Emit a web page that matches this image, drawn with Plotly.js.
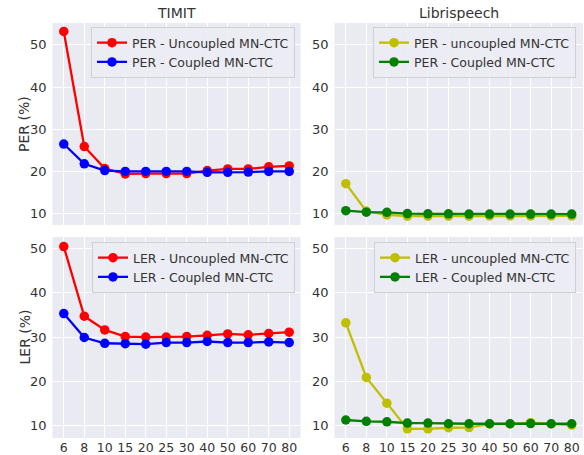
<!DOCTYPE html>
<html>
<head>
<meta charset="utf-8">
<script src="https://cdn.plot.ly/plotly-3.0.1.min.js"></script>
<style>html,body{margin:0;padding:0;background:#fff;}#chart{width:584px;height:455px;}</style>
</head>
<body>
<div id="chart"></div>
<script>
const steps = ['6','8','10','15','20','25','30','40','50','60','70','80'];

const timitPerUncoupled = [53.2, 25.9, 20.7, 19.4, 19.5, 19.5, 19.5, 20.2, 20.6, 20.6, 21.1, 21.3];
const timitPerCoupled   = [26.5, 21.8, 20.2, 20.0, 20.0, 20.0, 20.0, 19.8, 19.8, 19.85, 20.0, 20.0];
const libriPerUncoupled = [17.1, 10.6, 9.7, 9.4, 9.4, 9.4, 9.4, 9.45, 9.45, 9.45, 9.45, 9.45];
const libriPerCoupled   = [10.7, 10.35, 10.3, 10.0, 9.95, 9.95, 9.9, 9.9, 9.9, 9.9, 9.9, 9.9];

const timitLerUncoupled = [50.4, 34.7, 31.6, 30.1, 30.0, 30.0, 30.1, 30.4, 30.7, 30.5, 30.8, 31.1];
const timitLerCoupled   = [35.3, 29.9, 28.6, 28.5, 28.4, 28.75, 28.75, 29.0, 28.75, 28.75, 28.9, 28.75];
const libriLerUncoupled = [33.2, 20.9, 15.1, 9.3, 9.3, 9.55, 9.6, 10.4, 10.4, 10.7, 10.4, 10.15];
const libriLerCoupled   = [11.3, 11.0, 10.9, 10.6, 10.6, 10.45, 10.45, 10.45, 10.45, 10.5, 10.45, 10.45];

const yTicks = [10, 20, 30, 40, 50];

const W = 584, H = 455;
const colL = [52.5 / W, 300.5 / W];
const colR = [334.5 / W, 583 / W];
const rowT = [1 - 225 / H, 1 - 23 / H];
const rowB = [1 - 438 / H, 1 - 237 / H];

const FONT = 'DejaVu Sans, sans-serif';
const TXT = '#333333';

function tr(y, name, color, xa, ya, leg) {
  return {
    x: steps, y: y, name: name, type: 'scatter', mode: 'lines+markers',
    xaxis: xa, yaxis: ya, legend: leg,
    line: {color: color, width: 2.3},
    marker: {color: color, size: 9.5}
  };
}

const data = [
  tr(timitPerUncoupled, 'PER - Uncoupled MN-CTC', '#ff0000', 'x', 'y', 'legend'),
  tr(timitPerCoupled, 'PER - Coupled MN-CTC', '#0000ff', 'x', 'y', 'legend'),
  tr(libriPerUncoupled, 'PER - uncoupled MN-CTC', '#bfbf00', 'x2', 'y2', 'legend2'),
  tr(libriPerCoupled, 'PER - Coupled MN-CTC', '#008000', 'x2', 'y2', 'legend2'),
  tr(timitLerUncoupled, 'LER - Uncoupled MN-CTC', '#ff0000', 'x3', 'y3', 'legend3'),
  tr(timitLerCoupled, 'LER - Coupled MN-CTC', '#0000ff', 'x3', 'y3', 'legend3'),
  tr(libriLerUncoupled, 'LER - uncoupled MN-CTC', '#bfbf00', 'x4', 'y4', 'legend4'),
  tr(libriLerCoupled, 'LER - Coupled MN-CTC', '#008000', 'x4', 'y4', 'legend4')
];

function xax(domain, anchor, showLabels) {
  return {
    domain: domain, anchor: anchor, type: 'category',
    categoryorder: 'array', categoryarray: steps,
    range: [-0.55, 11.55], showgrid: true, gridcolor: '#ffffff', gridwidth: 1,
    zeroline: false, showline: false, ticks: '',
    showticklabels: showLabels, ticklabelstandoff: 0,
    tickfont: {family: FONT, size: 12.5, color: TXT}
  };
}
function yax(domain, anchor, range) {
  return {
    domain: domain, anchor: anchor, range: range,
    tickmode: 'array', tickvals: yTicks, ticktext: yTicks.map(String),
    showgrid: true, gridcolor: '#ffffff', gridwidth: 1,
    zeroline: false, showline: false, ticks: '', ticklabelstandoff: 5,
    tickfont: {family: FONT, size: 13, color: TXT}
  };
}
function leg(xr, ytop) {
  return {
    x: xr, y: ytop, xanchor: 'right', yanchor: 'top',
    bgcolor: 'rgba(236,236,244,0.9)', bordercolor: '#cfcfd6', borderwidth: 1,
    font: {family: FONT, size: 12.5, color: TXT}, itemwidth: 30,
    tracegroupgap: 0
  };
}

const topRange = [7.3, 55.2];
const botRange = [7.24, 52.56];

const layout = {
  width: W, height: H,
  margin: {l: 0, r: 0, t: 0, b: 0},
  paper_bgcolor: '#ffffff', plot_bgcolor: '#eaeaf2',
  font: {family: FONT, color: TXT},
  showlegend: true,
  xaxis: xax(colL, 'y', false),
  yaxis: yax(rowT, 'x', topRange),
  xaxis2: xax(colR, 'y2', false),
  yaxis2: yax(rowT, 'x2', topRange),
  xaxis3: xax(colL, 'y3', true),
  yaxis3: yax(rowB, 'x3', botRange),
  xaxis4: xax(colR, 'y4', true),
  yaxis4: yax(rowB, 'x4', botRange),
  legend: leg(295 / W, 1 - 27 / H),
  legend2: leg(576 / W, 1 - 27 / H),
  legend3: leg(295 / W, 1 - 242 / H),
  legend4: leg(576 / W, 1 - 242 / H),
  annotations: [
    {text: 'TIMIT', x: (colL[0] + colL[1]) / 2, y: 1 - 13 / H, xref: 'paper', yref: 'paper',
     showarrow: false, xanchor: 'center', yanchor: 'middle', font: {family: FONT, size: 14, color: TXT}},
    {text: 'Librispeech', x: (colR[0] + colR[1]) / 2, y: 1 - 13 / H, xref: 'paper', yref: 'paper',
     showarrow: false, xanchor: 'center', yanchor: 'middle', font: {family: FONT, size: 14, color: TXT}},
    {text: 'PER (%)', x: 24 / W, y: (rowT[0] + rowT[1]) / 2, xref: 'paper', yref: 'paper', textangle: -90,
     showarrow: false, xanchor: 'center', yanchor: 'middle', font: {family: FONT, size: 14, color: TXT}},
    {text: 'LER (%)', x: 24 / W, y: (rowB[0] + rowB[1]) / 2, xref: 'paper', yref: 'paper', textangle: -90,
     showarrow: false, xanchor: 'center', yanchor: 'middle', font: {family: FONT, size: 14, color: TXT}}
  ]
};

Plotly.newPlot('chart', data, layout, {displayModeBar: false, staticPlot: true});
</script>
</body>
</html>
